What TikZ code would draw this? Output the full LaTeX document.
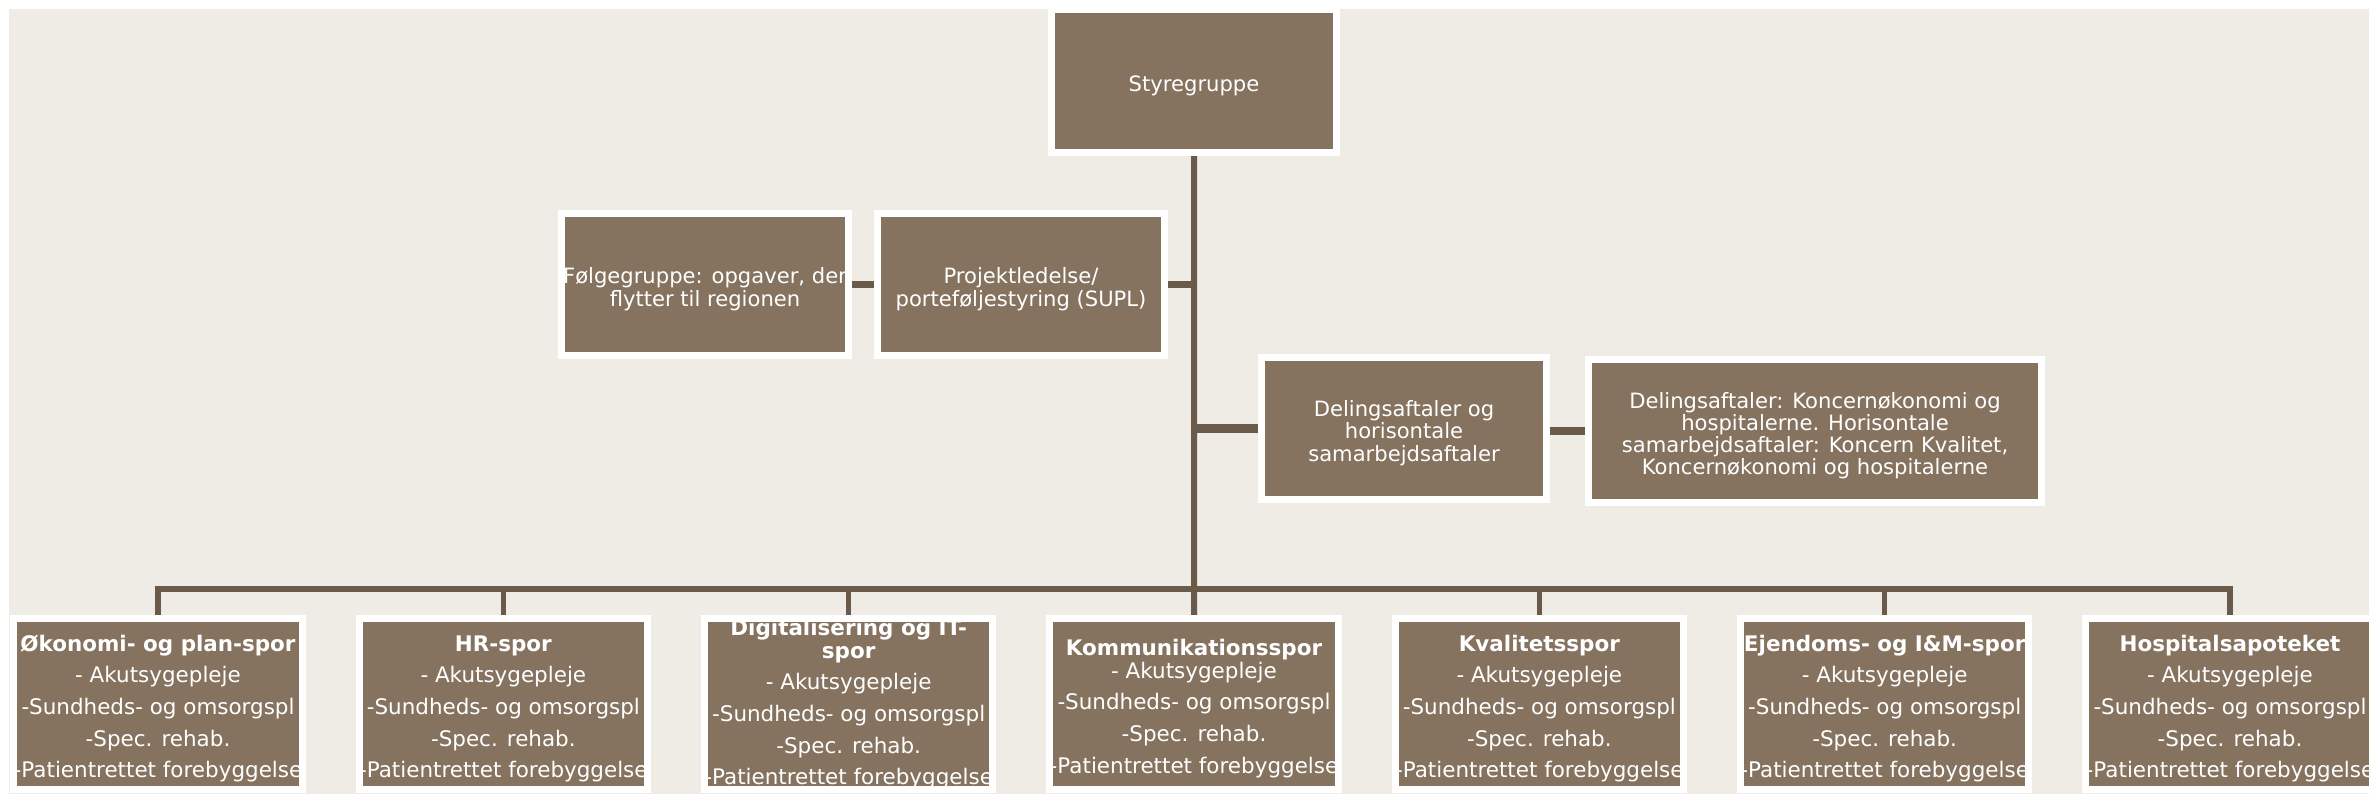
\documentclass[tikz,border=0pt]{standalone}
\usepackage{fontspec}
\setmainfont{DejaVu Sans}
\usetikzlibrary{backgrounds}
\definecolor{paper}{RGB}{239,236,229}
\definecolor{boxbrown}{RGB}{133,115,96}
\definecolor{linebrown}{RGB}{105,90,73}
\newcommand\up{\rule{0pt}{7.2pt}}

\begin{document}
\begin{tikzpicture}[x=0.01cm, y=-0.01cm,
    box/.style={rectangle, fill=boxbrown, draw=white, line width=0.07cm, text=white,
        align=center, inner sep=0pt, minimum width=2.87cm, minimum height=1.42cm,
        font=\fontsize{6}{6.3}\selectfont},
    spor/.style={box, minimum height=1.71cm, font=\fontsize{6.1}{9}\selectfont},
    link/.style={draw=linebrown, line width=0.06cm},
    bar/.style={draw=linebrown, line width=0.09cm}]
    \useasboundingbox (0,0) rectangle (2369,794);
    % upper boxes
    \node[box, minimum width=2.85cm, minimum height=1.43cm](sty)at(1194,81){\up Styregruppe};
    \node[box](folge)at(705,284.5){\up Følgegruppe: opgaver, der\\flytter til regionen};
    \node[box](proj)at(1021,284.5){\up Projektledelse/\\porteføljestyring (SUPL)};
    \node[box, minimum width=2.85cm](del1)at(1404,428.5){\up Delingsaftaler og\\horisontale\\samarbejdsaftaler};
    \node[box, minimum width=4.53cm, minimum height=1.43cm](del2)at(1815,431){\up Delingsaftaler: Koncernøkonomi og\\hospitalerne. Horisontale\\samarbejdsaftaler: Koncern Kvalitet,\\Koncernøkonomi og hospitalerne};
    % spor boxes
    \foreach \i/\title/\gap in {
        1/{\up\textbf{Økonomi- og plan-spor}}/0pt,
        2/{\up\textbf{HR-spor}}/0pt,
        3/{\textbf{Digitalisering og IT-}\\[-2.4pt]\textbf{spor}}/0pt,
        4/{\up\textbf{Kommunikationsspor}}/-2.6pt,
        5/{\up\textbf{Kvalitetsspor}}/0pt,
        6/{\up\textbf{Ejendoms- og I\&M-spor}}/0pt,
        7/{\up\textbf{Hospitalsapoteket}}/0pt}
        \node[spor](b\i)at({158+345.33*(\i-1)},704){\title\\[\gap]- Akutsygepleje\\-Sundheds- og omsorgspl\\-Spec. rehab.\\-Patientrettet forebyggelse};
    \coordinate (bus) at (1194,589);
    % connectors
    \begin{scope}[on background layer]
        \fill[white] (0,0) rectangle (2369,794);
        \fill[paper] (9,9) rectangle (2369,794);
        \draw[link] (sty.south)--(b4.north);
        \draw[link] (b1.north)|-(bus)-|(b7.north);
        \foreach \i in {2,3,5,6}
            \draw[link, line width=0.05cm] (b\i.north)--(b\i.north|-bus);
        \draw[bar, line width=0.07cm] (folge.east)--(proj.west);
        \draw[bar, line width=0.07cm] (proj.east)--(proj.east-|sty.south);
        \draw[bar] (sty.south|-del1.west)--(del1.west);
        \draw[bar, line width=0.07cm] (del2.west-|del1.east)--(del2.west);
    \end{scope}
\end{tikzpicture}
\end{document}
